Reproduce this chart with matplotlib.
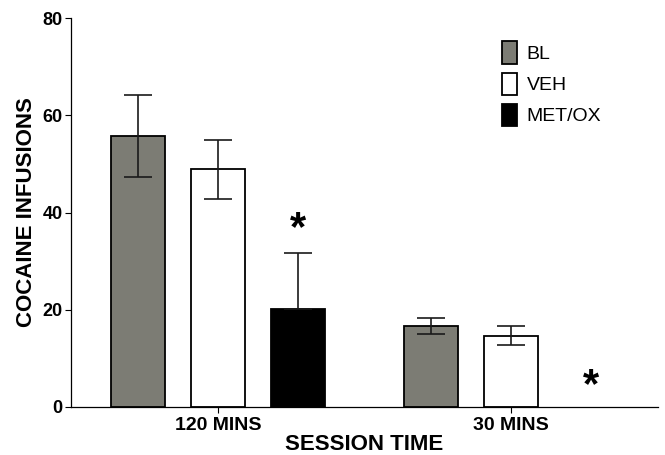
import numpy as np
import matplotlib
matplotlib.use('Agg')
from matplotlib import pyplot as plt
from matplotlib.patches import Patch

plt.rcParams['font.family'] = ['Liberation Sans', 'DejaVu Sans']

groups = ['120 MINS', '30 MINS']
series = ['BL', 'VEH', 'MET/OX']
colors = ['#7c7c74', 'white', 'black']

means = {'BL': [55.7, 16.7],
         'VEH': [48.9, 14.7],
         'MET/OX': [20.2, 0.0]}
# lower / upper error (MET/OX only shows the upper half)
err_lo = {'BL': [8.4, 1.6],
          'VEH': [6.1, 1.95],
          'MET/OX': [0.0, np.nan]}
err_hi = {'BL': [8.4, 1.6],
          'VEH': [6.1, 1.95],
          'MET/OX': [11.5, np.nan]}

# significance stars (group index, bar index, height)
stars = [(0, 2, 38.3), (1, 2, 6.0)]

fig = plt.figure(figsize=[6.65, 4.55], dpi=100)
ax = fig.add_axes([0.1068, 0.1055, 0.8827, 0.8549])

x = np.arange(len(groups))
offset = 0.273
width = 0.184

for i, s in enumerate(series):
    xs = x + (i - 1) * offset
    lw = [1.3 if m > 0 else 0 for m in means[s]]
    ax.bar(xs, means[s], width, color=colors[i], edgecolor='black', linewidth=lw, zorder=2)
    ax.errorbar(xs, means[s], yerr=[err_lo[s], err_hi[s]], fmt='none', ecolor='#1a1a1a',
                elinewidth=1.2, capsize=10, capthick=1.2, zorder=3)

for g, b, h in stars:
    ax.text(x[g] + (b - 1) * offset, h - 1.8, '*', ha='center', va='center',
            fontsize=30, fontweight='bold')

ax.set_xlim(-0.5, 1.5)
ax.set_ylim(0, 80)
ax.set_yticks([0, 20, 40, 60, 80])
ax.set_xticks(x)
ax.set_xticklabels(groups)
for lab in ax.get_xticklabels() + ax.get_yticklabels():
    lab.set_fontweight('bold')
ax.tick_params(axis='y', labelsize=13, length=4, pad=2)
ax.tick_params(axis='x', labelsize=14, length=4, pad=3)
ax.spines['top'].set_visible(False)
ax.spines['right'].set_visible(False)
ax.spines['left'].set_linewidth(0.9)
ax.spines['bottom'].set_linewidth(0.9)

ax.set_ylabel('COCAINE INFUSIONS', fontsize=16, fontweight='bold', labelpad=4)
ax.set_xlabel('SESSION TIME', fontsize=16, fontweight='bold', labelpad=0)

handles = [Patch(facecolor=colors[i], edgecolor='black', linewidth=1.3, label=s)
           for i, s in enumerate(series)]
ax.legend(handles=handles, loc='upper left', bbox_to_anchor=(0.705, 0.985),
          frameon=False, fontsize=14, handlelength=0.75, handleheight=1.4,
          handletextpad=0.5, labelspacing=0.45)

fig.savefig('out.png', dpi=100)
